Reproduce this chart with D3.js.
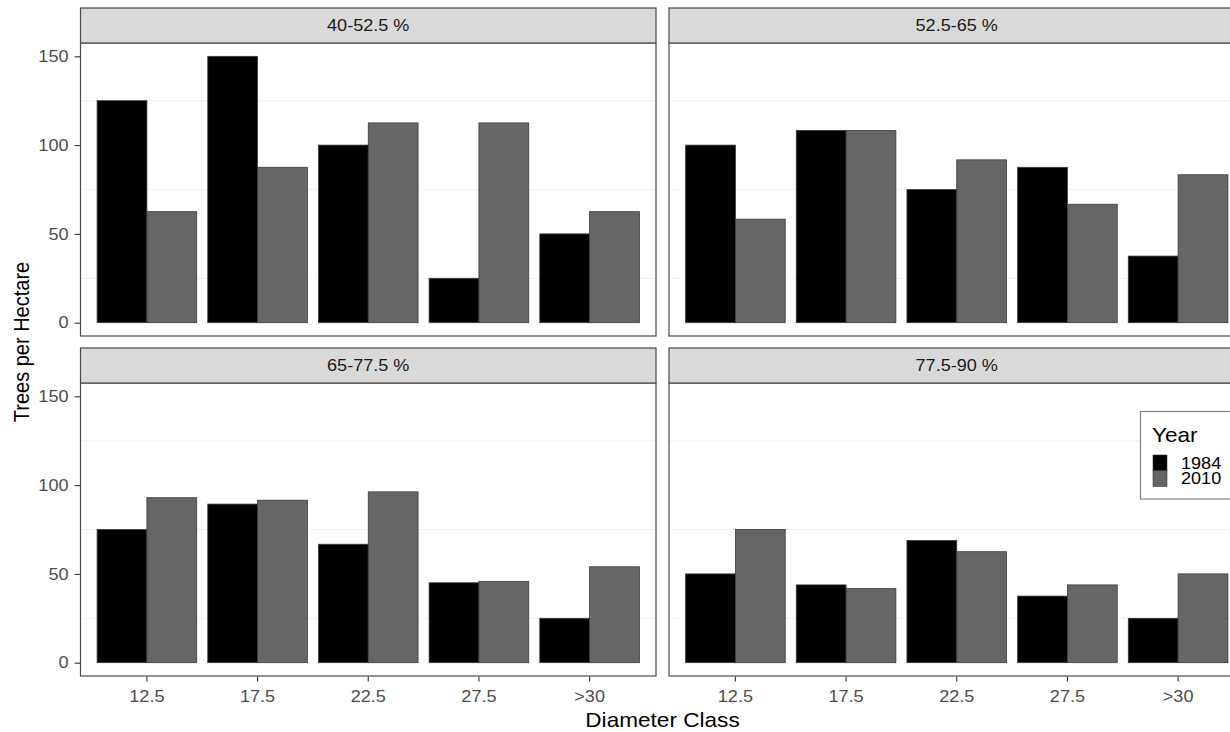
<!DOCTYPE html>
<html>
<head>
<meta charset="utf-8">
<script src="https://cdn.jsdelivr.net/npm/d3@7"></script>
<style>
  html, body { margin: 0; padding: 0; background: #fff; }
  svg { display: block; font-family: "Liberation Sans", Arial, sans-serif; }
</style>
</head>
<body>
<svg id="chart" width="1230" height="732"></svg>
<script>
// Crown-cover classes (facets), diameter classes (x) and survey years (fill)
const crownClasses = ["40-52.5 %", "52.5-65 %", "65-77.5 %", "77.5-90 %"];
const diameterClasses = ["12.5", "17.5", "22.5", "27.5", ">30"];
const years = ["1984", "2010"];

// Trees per hectare, one row per crown-cover class, one value per diameter class
const trees1984 = [
  [125, 150, 100, 25, 50],
  [100, 108.3, 75, 87.5, 37.5],
  [75, 89.3, 66.7, 45, 25],
  [50, 43.8, 68.8, 37.5, 25]
];
const trees2010 = [
  [62.5, 87.5, 112.5, 112.5, 62.5],
  [58.3, 108.3, 91.7, 66.7, 83.3],
  [92.9, 91.5, 96.2, 45.8, 54],
  [75, 41.7, 62.5, 43.8, 50]
];

const yTicks = [0, 50, 100, 150];
const yMinorTicks = [25, 75, 125];
const yearColors = ["#000000", "#666666"];

// glyphs are drawn slightly wide
const TEXT_STRETCH = 1.13;
function placeText(sel, x, y) {
  sel.attr("transform", `translate(${x},${y}) scale(${TEXT_STRETCH},1)`);
  return sel;
}

const svg = d3.select("#chart");

// Panel geometry (2 x 2 facet grid)
const colX = [[80.5, 656], [669, 1244.5]];
const rowY = [{ strip: [8, 43], panel: [43, 336] }, { strip: [348, 383], panel: [383, 676] }];

const yScales = rowY.map(r => d3.scaleLinear().domain([-7.5, 157.5]).range([r.panel[1], r.panel[0]]));
const xScales = colX.map(c => d3.scaleBand().domain(diameterClasses).range(c)
  .paddingInner(0.1).paddingOuter(0.15));
const sub = d3.scaleBand().domain(years);
const fill = d3.scaleOrdinal().domain(years).range(yearColors);

crownClasses.forEach((cc, i) => {
  const r = Math.floor(i / 2), c = i % 2;
  const x = xScales[c], y = yScales[r];
  const [x0, x1] = colX[c];
  const [p0, p1] = rowY[r].panel;
  const [s0, s1] = rowY[r].strip;
  sub.range([0, x.bandwidth()]);

  const g = svg.append("g");

  // panel background
  g.append("rect").attr("x", x0).attr("y", p0).attr("width", x1 - x0).attr("height", p1 - p0)
    .attr("fill", "#fff");

  // minor horizontal grid lines
  g.selectAll(".grid").data(yMinorTicks).join("line")
    .attr("x1", x0).attr("x2", x1)
    .attr("y1", d => y(d)).attr("y2", d => y(d))
    .attr("stroke", "#f0f0f0").attr("stroke-width", 1);

  // bars
  const rows = diameterClasses.map((d, k) => ({
    cls: d,
    vals: [{ year: "1984", v: trees1984[i][k] }, { year: "2010", v: trees2010[i][k] }]
  }));
  g.selectAll(".grp").data(rows).join("g")
    .attr("transform", d => `translate(${x(d.cls)},0)`)
    .selectAll("rect").data(d => d.vals).join("rect")
    .attr("x", d => sub(d.year))
    .attr("width", sub.bandwidth())
    .attr("y", d => y(d.v))
    .attr("height", d => y(0) - y(d.v))
    .attr("fill", d => fill(d.year))
    .attr("stroke", "#3a3a3a").attr("stroke-width", 0.8);

  // panel border
  g.append("rect").attr("x", x0).attr("y", p0).attr("width", x1 - x0).attr("height", p1 - p0)
    .attr("fill", "none").attr("stroke", "#4a4a4a").attr("stroke-width", 1.2);

  // facet strip
  g.append("rect").attr("x", x0).attr("y", s0).attr("width", x1 - x0).attr("height", s1 - s0)
    .attr("fill", "#d9d9d9").attr("stroke", "#4a4a4a").attr("stroke-width", 1.2);
  placeText(g.append("text"), (x0 + x1) / 2, (s0 + s1) / 2).attr("dy", "0.35em")
    .attr("text-anchor", "middle").attr("font-size", 16).attr("fill", "#1a1a1a").text(cc);

  // y axis on left column
  if (c === 0) {
    const ax = g.append("g").attr("transform", `translate(${x0 - 0.5},0)`)
      .call(d3.axisLeft(y).tickValues(yTicks).tickSize(5.5));
    ax.select(".domain").remove();
    ax.selectAll(".tick line").attr("stroke", "#333").attr("stroke-width", 1.1);
    ax.selectAll(".tick text").attr("font-size", 16).attr("fill", "#4d4d4d")
      .attr("font-family", "Liberation Sans, Arial, sans-serif")
      .attr("x", 0).attr("transform", `translate(-11.5,0) scale(${TEXT_STRETCH},1)`);
  }
  // x axis on bottom row
  if (r === 1) {
    const ax = g.append("g").attr("transform", `translate(0,${p1 + 0.5})`)
      .call(d3.axisBottom(x).tickSize(5).tickPadding(9));
    ax.select(".domain").remove();
    ax.selectAll(".tick line").attr("stroke", "#333").attr("stroke-width", 1.1);
    ax.selectAll(".tick text").attr("font-size", 16).attr("fill", "#4d4d4d")
      .attr("font-family", "Liberation Sans, Arial, sans-serif")
      .attr("transform", `scale(${TEXT_STRETCH},1)`);
  }
});

// axis titles
placeText(svg.append("text"), 662.5, 727).attr("text-anchor", "middle")
  .attr("font-size", 20).attr("fill", "#000").text("Diameter Class");
svg.append("text").attr("transform", `translate(29,342) scale(${TEXT_STRETCH},1) rotate(-90)`)
  .attr("text-anchor", "middle").attr("font-size", 20).attr("fill", "#000").text("Trees per Hectare");

// legend
const lg = svg.append("g");
lg.append("rect").attr("x", 1140.5).attr("y", 411.5).attr("width", 110).attr("height", 87.5)
  .attr("fill", "#fff").attr("stroke", "#7f7f7f").attr("stroke-width", 1.2);
placeText(lg.append("text"), 1152, 442).attr("font-size", 20).attr("fill", "#000").text("Year");
const keyH = 15.8;
lg.selectAll(".key").data(years).join("rect")
  .attr("x", 1153).attr("y", (d, k) => 455 + k * keyH)
  .attr("width", 14).attr("height", keyH)
  .attr("fill", d => fill(d)).attr("stroke", "#3a3a3a").attr("stroke-width", 0.6);
lg.selectAll(".lab").data(years).join("text")
  .attr("transform", (d, k) => `translate(1181,${455 + k * keyH + keyH / 2}) scale(${TEXT_STRETCH},1)`)
  .attr("dy", "0.35em")
  .attr("font-size", 16).attr("fill", "#000").text(d => d);
</script>
</body>
</html>
